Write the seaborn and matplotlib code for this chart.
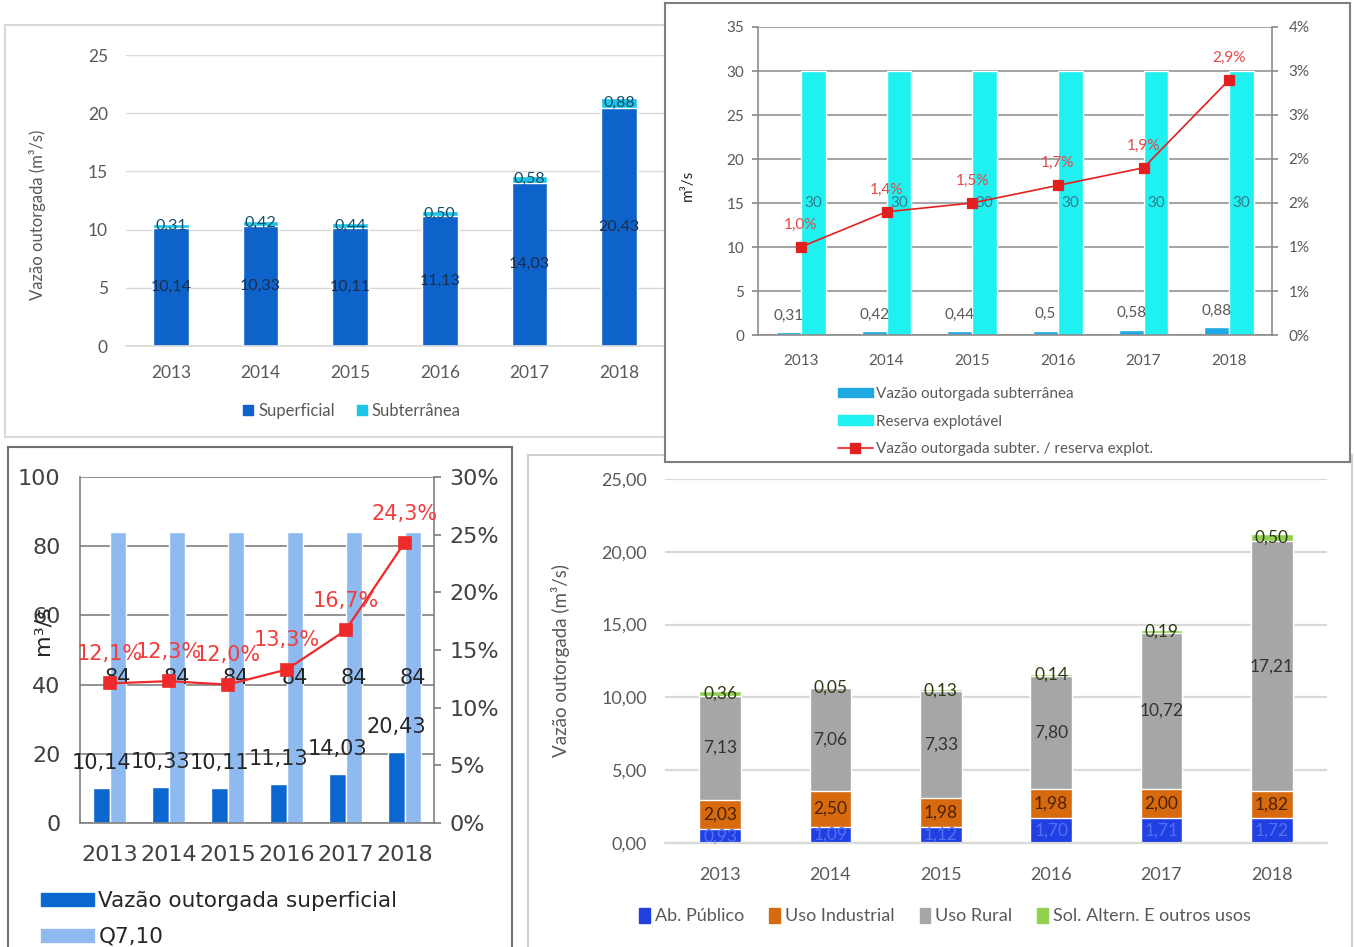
import matplotlib
matplotlib.use("Agg")
import matplotlib.pyplot as plt
import seaborn as sns
import pandas as pd
import numpy as np
from matplotlib.patches import Patch
from matplotlib.lines import Line2D

# ---------------- data ----------------
years = ["2013", "2014", "2015", "2016", "2017", "2018"]
superficial = [10.14, 10.33, 10.11, 11.13, 14.03, 20.43]
subterranea = [0.31, 0.42, 0.44, 0.50, 0.58, 0.88]
reserva_explotavel = [30, 30, 30, 30, 30, 30]
ratio_subter_pct = [1.0, 1.4, 1.5, 1.7, 1.9, 2.9]
q710 = [84, 84, 84, 84, 84, 84]
ratio_superf_pct = [12.1, 12.3, 12.0, 13.3, 16.7, 24.3]
ab_publico = [0.93, 1.09, 1.12, 1.70, 1.71, 1.72]
uso_industrial = [2.03, 2.50, 1.98, 1.98, 2.00, 1.82]
uso_rural = [7.13, 7.06, 7.33, 7.80, 10.72, 17.21]
sol_altern = [0.36, 0.05, 0.13, 0.14, 0.19, 0.50]
tr_right_labels = ["0%", "1%", "1%", "2%", "2%", "3%", "3%", "4%"]

# ---------------- style ----------------
sns.set_theme(style="white")
plt.rcParams['font.family'] = ['Lato', 'DejaVu Sans']

W, H = 1354, 947
fig = plt.figure(figsize=(W / 100, H / 100), dpi=100)
fig.patch.set_facecolor("white")


def fr(x0, y0, x1, y1):
    return [x0 / W, 1 - y1 / H, (x1 - x0) / W, (y1 - y0) / H]


def fmt(v, d=2):
    return f"{v:.{d}f}".replace(".", ",")


def panel(box, edge, z, lw=1.5):
    a = fig.add_axes(fr(*box), zorder=z)
    a.set_xticks([])
    a.set_yticks([])
    a.set_facecolor("white")
    for s in a.spines.values():
        s.set_visible(True)
        s.set_color(edge)
        s.set_linewidth(lw)
    return a


def cat_minor(ax, n, length, color):
    ax.set_xticks(np.arange(-0.5, n, 1.0), minor=True)
    ax.tick_params(axis="x", which="minor", length=length, color=color, width=1)
    ax.tick_params(axis="x", which="major", length=0)


tick_col = "#595959"

# ======================= TOP-LEFT =======================
panel((5, 25, 700, 437), "#d9d9d9", 1)
ax1 = fig.add_axes(fr(126, 55, 664, 346), zorder=1.5)
tl = pd.DataFrame({"Ano": years, "Superficial": superficial, "Subterrânea": subterranea})
tl["Total"] = tl["Superficial"] + tl["Subterrânea"]
c_tl_sup, c_tl_sub = "#0d63c9", "#1dc6e6"
sns.barplot(data=tl, x="Ano", y="Total", color=c_tl_sub, saturation=1, width=0.4, ax=ax1)
sns.barplot(data=tl, x="Ano", y="Superficial", color=c_tl_sup, saturation=1, width=0.4, ax=ax1)
ax1.bar_label(ax1.containers[1], labels=[fmt(v) for v in superficial], label_type="center",
              fontsize=11.5, color="#1c2c4c")
for i, (s, u) in enumerate(zip(superficial, subterranea)):
    ax1.text(i, s + u / 2, fmt(u), ha="center", va="center", fontsize=11.5, color="#114c6c")
ax1.set_ylim(0, 25)
ax1.set_yticks(range(0, 26, 5))
ax1.set_yticklabels([str(v) for v in range(0, 26, 5)])
ax1.set_xlabel("")
ax1.set_ylabel("")
ax1.yaxis.grid(True, color="#d9d9d9", lw=1)
ax1.set_axisbelow(True)
for k in ["top", "right", "left"]:
    ax1.spines[k].set_visible(False)
ax1.spines["bottom"].set_color("#d9d9d9")
ax1.tick_params(axis="both", length=0, labelsize=12.5, labelcolor=tick_col)
ax1.tick_params(axis="y", pad=13)
ax1.tick_params(axis="x", pad=14)
fig.text(38 / W, 1 - 215 / H, "Vazão outorgada (m³/s)", rotation=90, ha="center", va="center",
         fontsize=12, color=tick_col, zorder=2)
ax1.legend(handles=[Patch(color=c_tl_sup), Patch(color=c_tl_sub)],
           labels=["Superficial", "Subterrânea"], loc="center",
           bbox_to_anchor=(352 / W, 1 - 411 / H), bbox_transform=fig.transFigure,
           ncol=2, frameon=False, handlelength=0.6, handleheight=0.6, handletextpad=0.3,
           columnspacing=1.3, fontsize=12, labelcolor=tick_col)

# ======================= BOTTOM-LEFT =======================
panel((8, 447, 512, 960), "#6f6f6f", 2)
ax3 = fig.add_axes(fr(80, 477, 434, 823), zorder=2.5)
c_bl_sup, c_bl_q = "#0b67cf", "#8fbaf0"
bl = pd.DataFrame({
    "Ano": years * 2,
    "Valor": superficial + q710,
    "Serie": ["Vazão outorgada superficial"] * 6 + ["Q7,10"] * 6,
})
sns.barplot(data=bl, x="Ano", y="Valor", hue="Serie",
            hue_order=["Vazão outorgada superficial", "Q7,10"],
            palette=[c_bl_sup, c_bl_q], saturation=1, width=0.57, legend=False, ax=ax3)
ax3.bar_label(ax3.containers[0], labels=[fmt(v) for v in superficial], padding=11,
              fontsize=15, color="#262626", fontfamily="DejaVu Sans")
ax3.bar_label(ax3.containers[1], labels=[str(v) for v in q710], label_type="center",
              fontsize=15, color="#262626", fontfamily="DejaVu Sans")
ax3.set_ylim(0, 100)
ax3.set_yticks(range(0, 101, 20))
ax3.set_yticklabels([str(v) for v in range(0, 101, 20)])
ax3.set_xlabel("")
ax3.set_ylabel("")
ax3.yaxis.grid(True, color="#7f7f7f", lw=1.2)
ax3.set_axisbelow(True)
for k in ["top", "right"]:
    ax3.spines[k].set_visible(False)
for k in ["left", "bottom"]:
    ax3.spines[k].set_color("#7f7f7f")
    ax3.spines[k].set_linewidth(1.2)
cat_minor(ax3, 6, 5, "#7f7f7f")
ax3.tick_params(axis="y", length=0, pad=14)
ax3.tick_params(axis="x", pad=16)
ax3.tick_params(axis="both", labelsize=16, labelcolor="#404040", labelfontfamily="DejaVu Sans")

ax3b = ax3.twinx()
ax3b.set_zorder(2.6)
sns.pointplot(x=years, y=ratio_superf_pct, ax=ax3b, color="#ee2a2a", markers="s",
              linestyles="-", markersize=9, linewidth=1.6, errorbar=None)
for i, v in enumerate(ratio_superf_pct):
    ax3b.annotate(fmt(v, 1) + "%", (i, v), xytext=(0, 21), textcoords="offset points",
                  ha="center", va="center", fontsize=15, color="#f23c3c",
                  fontfamily="DejaVu Sans")
ax3b.set_ylim(0, 30)
ax3b.set_yticks(range(0, 31, 5))
ax3b.set_yticklabels([f"{v}%" for v in range(0, 31, 5)])
ax3b.set_ylabel("")
for k in ["top", "left", "bottom"]:
    ax3b.spines[k].set_visible(False)
ax3b.spines["right"].set_visible(True)
ax3b.spines["right"].set_color("#7f7f7f")
ax3b.spines["right"].set_linewidth(1.2)
ax3b.tick_params(axis="y", length=5, color="#7f7f7f", pad=6, labelsize=16,
                 labelcolor="#404040", labelfontfamily="DejaVu Sans")
fig.text(42 / W, 1 - 630 / H, "m³/s", rotation=90, ha="center", va="center",
         fontsize=16, color="#262626", family="DejaVu Sans", zorder=3)
ax3.legend(handles=[Patch(color=c_bl_sup), Patch(color=c_bl_q)],
           labels=["Vazão outorgada superficial", "Q7,10"], loc="upper left",
           bbox_to_anchor=(22 / W, 1 - 872 / H), bbox_transform=fig.transFigure,
           frameon=False, handlelength=2.45, handleheight=0.55, handletextpad=0.2,
           labelspacing=0.72, labelcolor="#262626",
           prop={"family": "DejaVu Sans", "size": 15.5})

# ======================= BOTTOM-RIGHT =======================
panel((528, 455, 1352, 960), "#d0d0d0", 3)
ax4 = fig.add_axes(fr(665, 479, 1327, 843), zorder=3.5)
c_ab, c_ind, c_rur, c_sol = "#2140e3", "#d7690f", "#a6a6a6", "#92d050"
br = pd.DataFrame({"Ano": years, "Ab": ab_publico, "Ind": uso_industrial,
                   "Rur": uso_rural, "Sol": sol_altern})
br["c1"] = br["Ab"]
br["c2"] = br["c1"] + br["Ind"]
br["c3"] = br["c2"] + br["Rur"]
br["c4"] = br["c3"] + br["Sol"]
for col, c in [("c4", c_sol), ("c3", c_rur), ("c2", c_ind), ("c1", c_ab)]:
    sns.barplot(data=br, x="Ano", y=col, color=c, saturation=1, width=0.38, ax=ax4)
segs = [("Ab", "c1", "#5470f0"), ("Ind", "c2", "#4a2200"), ("Rur", "c3", "#333333"),
        ("Sol", "c4", "#2c3a12")]
for name, top, tc in segs:
    for i in range(len(years)):
        h = br[name][i]
        ax4.text(i, br[top][i] - h / 2, fmt(h), ha="center", va="center",
                 fontsize=12.5, color=tc)
ax4.set_ylim(0, 25)
ax4.set_yticks(range(0, 26, 5))
ax4.set_yticklabels([fmt(v) for v in range(0, 26, 5)])
ax4.set_xlabel("")
ax4.set_ylabel("")
ax4.yaxis.grid(True, color="#d9d9d9", lw=1.6)
ax4.set_axisbelow(True)
for k in ["top", "right", "left"]:
    ax4.spines[k].set_visible(False)
ax4.spines["bottom"].set_color("#d9d9d9")
ax4.spines["bottom"].set_linewidth(1.6)
ax4.tick_params(axis="both", length=0, labelsize=13, labelcolor=tick_col)
ax4.tick_params(axis="y", pad=13)
ax4.tick_params(axis="x", pad=17)
fig.text(560 / W, 1 - 660 / H, "Vazão outorgada (m³/s)", rotation=90, ha="center",
         va="center", fontsize=13.5, color=tick_col, zorder=4)
ax4.legend(handles=[Patch(color=c) for c in [c_ab, c_ind, c_rur, c_sol]],
           labels=["Ab. Público", "Uso Industrial", "Uso Rural", "Sol. Altern. E outros usos"],
           loc="center", bbox_to_anchor=(945 / W, 1 - 916 / H), bbox_transform=fig.transFigure,
           ncol=4, frameon=False, handlelength=0.6, handleheight=0.9, handletextpad=0.25,
           columnspacing=1.4, fontsize=13, labelcolor=tick_col)

# ======================= TOP-RIGHT =======================
panel((665, 3, 1350, 462), "#7f7f7f", 4)
ax2 = fig.add_axes(fr(758, 27, 1272, 335), zorder=4.5)
c_tr_sub, c_tr_res = "#1fa9e3", "#1ff0f0"
tr = pd.DataFrame({
    "Ano": years * 2,
    "Valor": subterranea + reserva_explotavel,
    "Serie": ["Vazão outorgada subterrânea"] * 6 + ["Reserva explotável"] * 6,
})
sns.barplot(data=tr, x="Ano", y="Valor", hue="Serie",
            hue_order=["Vazão outorgada subterrânea", "Reserva explotável"],
            palette=[c_tr_sub, c_tr_res], saturation=1, width=0.58, legend=False, ax=ax2)
ax2.bar_label(ax2.containers[0], labels=[f"{v:g}".replace(".", ",") for v in subterranea],
              padding=7, fontsize=11, color=tick_col)
ax2.bar_label(ax2.containers[1], labels=[str(v) for v in reserva_explotavel],
              label_type="center", fontsize=11, color="#2f7f8f")
ax2.set_ylim(0, 35)
ax2.set_yticks(range(0, 36, 5))
ax2.set_yticklabels([str(v) for v in range(0, 36, 5)])
ax2.set_xlabel("")
ax2.set_ylabel("")
ax2.yaxis.grid(True, color="#a6a6a6", lw=1.5)
ax2.set_axisbelow(True)
ax2.spines["top"].set_visible(False)
ax2.spines["right"].set_visible(False)
for k in ["left", "bottom"]:
    ax2.spines[k].set_color("#8c8c8c")
    ax2.spines[k].set_linewidth(1.2)
cat_minor(ax2, 6, 4, "#8c8c8c")
ax2.tick_params(axis="y", length=4, color="#8c8c8c", pad=6)
ax2.tick_params(axis="x", pad=14)
ax2.tick_params(axis="both", labelsize=11, labelcolor=tick_col)

ax2b = ax2.twinx()
ax2b.set_zorder(4.6)
sns.pointplot(x=years, y=ratio_subter_pct, ax=ax2b, color="#e3201f", markers="s",
              linestyles="-", markersize=7, linewidth=1.2, errorbar=None)
for i, v in enumerate(ratio_subter_pct):
    ax2b.annotate(fmt(v, 1) + "%", (i, v), xytext=(0, 16), textcoords="offset points",
                  ha="center", va="center", fontsize=11, color="#e84545")
ax2b.set_ylim(0, 3.5)
ax2b.set_yticks(np.arange(0, 3.51, 0.5))
ax2b.set_yticklabels(tr_right_labels)
ax2b.set_ylabel("")
for k in ["top", "left", "bottom"]:
    ax2b.spines[k].set_visible(False)
ax2b.spines["right"].set_visible(True)
ax2b.spines["right"].set_color("#8c8c8c")
ax2b.spines["right"].set_linewidth(1.2)
ax2b.tick_params(axis="y", length=4, color="#8c8c8c", pad=8, labelsize=11, labelcolor=tick_col)
fig.text(688 / W, 1 - 185 / H, "m³/s", rotation=90, ha="center", va="center",
         fontsize=11, color="#262626", zorder=5)
ax2.legend(handles=[Patch(color=c_tr_sub), Patch(color=c_tr_res),
                    Line2D([], [], color="#e3201f", marker="s", markersize=7, lw=1.2)],
           labels=["Vazão outorgada subterrânea", "Reserva explotável",
                   "Vazão outorgada subter. / reserva explot."],
           loc="upper left", bbox_to_anchor=(824 / W, 1 - 373 / H),
           bbox_transform=fig.transFigure, frameon=False, handlelength=2.3,
           handleheight=0.6, handletextpad=0.2, labelspacing=0.9, fontsize=11,
           labelcolor=tick_col)

fig.savefig("out.png", dpi=100, facecolor="white")
